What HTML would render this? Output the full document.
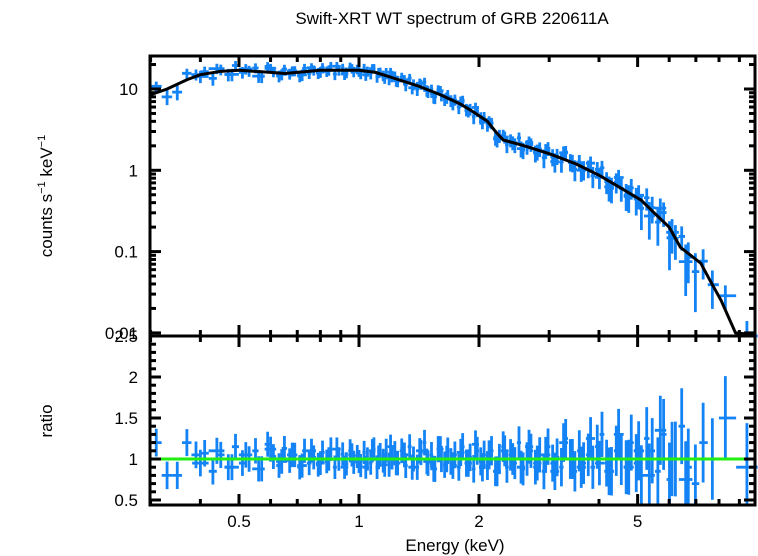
<!DOCTYPE html>
<html><head><meta charset="utf-8"><style>
body{margin:0;background:#fff}
svg{display:block;font-family:"Liberation Sans",sans-serif}
</style></head><body>
<svg id="chart" width="758" height="556" viewBox="0 0 758 556">
<text x="452" y="24" font-size="17" text-anchor="middle">Swift-XRT WT spectrum of GRB 220611A</text>
<text x="52" y="196" font-size="17" text-anchor="middle" transform="rotate(-90 52 196)">counts s<tspan font-size="11" dy="-7">−1</tspan><tspan dy="7"> keV</tspan><tspan font-size="11" dy="-7">−1</tspan></text>
<text x="52" y="421" font-size="17" text-anchor="middle" transform="rotate(-90 52 421)">ratio</text>
<text x="455" y="551" font-size="17" text-anchor="middle">Energy (keV)</text>
<g id="g"></g>
</svg>
<script>
const modelE=[0.3,0.33,0.37,0.4,0.45,0.5,0.6,0.65,0.7,0.8,1.0,1.1,1.2,1.4,1.6,1.8,1.95,2.1,2.2,2.3,2.6,3.0,3.5,4.0,4.5,5.1,5.5,6.0,6.4,7.2,7.6,8.1,8.8,10];
const modelV=[8.5,10,13,15,16.5,17,16,15.5,16,17,17,16,14,11,8.5,6.5,5.1,4,3,2.36,2,1.6,1.2,0.87,0.62,0.43,0.3,0.2,0.113,0.072,0.044,0.025,0.01,0.0095];
const dataE=[0.31,0.33,0.35,0.37,0.39,0.41,0.43,0.45,0.47,0.49,0.51,0.53,0.55,0.57,0.59,0.61,0.63,0.65,0.67,0.69,0.71,0.73,0.75,0.77,0.79,0.81,0.83,0.85,0.87,0.89,0.91,0.93,0.95,0.97,0.99,1.01,1.03,1.05,1.07,1.09,1.11,1.13,1.15,1.17,1.19,1.21,1.23,1.25,1.28,1.31,1.34,1.37,1.40,1.43,1.46,1.49,1.52,1.55,1.58,1.61,1.64,1.67,1.70,1.74,1.78,1.82,1.86,1.90,1.94,1.98,2.02,2.06,2.10,2.15,2.20,2.25,2.30,2.35,2.40,2.46,2.52,2.58,2.64,2.70,2.77,2.84,2.91,2.98,3.06,3.14,3.22,3.30,3.39,3.48,3.57,3.66,3.76,3.86,3.96,4.07,4.18,4.30,4.42,4.55,4.68,4.82,4.96,5.11,5.27,5.44,5.62,5.81,6.01,6.22,6.45,6.70,6.98,7.30,7.70,8.30,9.40];
const ratio=[1.2,0.8,0.8,1.2,1.05,1.07,0.85,1.05,0.9,1.15,0.95,1.0,1.1,0.88,1.18,1.03,0.92,1.13,0.98,1.05,0.9,1.1,0.95,1.02,0.93,1.08,0.97,1.12,0.9,1.0,1.06,0.94,1.1,0.96,1.03,0.92,1.08,1.0,0.95,1.12,0.9,1.05,0.98,1.1,0.93,1.02,1.07,0.95,1.1,0.92,1.15,1.0,0.9,1.08,1.2,0.95,1.05,0.88,1.12,1.0,0.93,1.1,0.97,1.05,0.9,1.15,0.95,1.02,0.88,1.1,0.97,1.05,0.92,1.1,0.85,1.0,1.15,0.9,1.05,0.95,1.2,0.88,1.0,1.1,0.9,1.05,0.85,1.15,0.95,1.02,0.9,1.25,1.0,0.85,1.1,0.95,1.05,0.9,1.15,1.3,0.95,0.85,1.1,1.0,0.9,1.2,0.95,0.8,1.25,1.1,0.85,1.3,0.75,1.0,1.4,0.9,0.7,1.2,1.0,1.5,0.9,1.55];
const dataE2=[0.40,0.44,0.48,0.52,0.56,0.60,0.64,0.68,0.72,0.76,0.80,0.84,0.88,0.92,0.96,1.00,1.04,1.08,1.12,1.16,1.20,1.24,1.30,1.36,1.42,1.48,1.54,1.60,1.66,1.72,1.80,1.88,1.96,2.04,2.12,2.22,2.32,2.43,2.55,2.67,2.80,2.94,3.10,3.26,3.43,3.61,3.81,4.01,4.24,4.48,4.75,5.03,5.35,5.70,6.10,6.60];
const ratio2=[0.95,1.1,0.9,1.05,0.88,1.12,0.97,1.05,0.92,1.1,0.95,1.0,1.12,0.9,1.05,0.97,0.9,1.1,1.02,0.93,1.15,0.95,1.05,0.9,1.1,0.97,0.88,1.12,1.0,0.92,1.08,0.95,1.18,0.9,1.05,0.85,1.1,1.0,0.9,1.15,0.95,1.05,0.85,1.2,1.0,0.9,1.25,0.95,0.85,1.3,0.9,1.1,0.8,1.35,1.0,0.75];
const errE=[0.3,1,2,4,6,10];
const errV=[0.17,0.14,0.17,0.27,0.45,0.55];
const xTicksMajor=[0.5,1,2,5];
const yTicksTop=[0.01,0.1,1,10];
const yTicksTopLabels=["0.01","0.1","1","10"];
const yTicksBot=[0.5,1,1.5,2,2.5];
const yTicksBotLabels=["0.5","1","1.5","2","2.5"];

const L=150,R=755,T=56,M=336,B=505;
const xMin=0.299,xMax=9.85;
const X=e=>L+(Math.log10(e)-Math.log10(xMin))/(Math.log10(xMax)-Math.log10(xMin))*(R-L);
const YT=v=>89-(Math.log10(v)-1)*81.3;
const YB=v=>459-(v-1)*82;
const clampT=y=>Math.max(T,Math.min(M,y));
const clampB=y=>Math.max(M,Math.min(B,y));
function interpLog(xs,ys,e){
  for(let i=0;i<xs.length-1;i++){if(e<=xs[i+1]){const t=(Math.log(e)-Math.log(xs[i]))/(Math.log(xs[i+1])-Math.log(xs[i]));return Math.exp(Math.log(ys[i])+t*(Math.log(ys[i+1])-Math.log(ys[i])));}}
  return ys[ys.length-1];
}
const NS='http://www.w3.org/2000/svg';
const g=document.getElementById('g');
function mk(tag,attrs,parent){const el=document.createElementNS(NS,tag);for(const k in attrs)el.setAttribute(k,attrs[k]);(parent||g).appendChild(el);return el;}

const dataG=mk('g',{stroke:'#1383f5','stroke-width':2.8,fill:'none'});


function drawSet(E,Rt){
  const n=Math.min(E.length,Rt.length);
  for(let i=0;i<n;i++){
    const e=E[i];
    const lo=i>0?Math.sqrt(E[i-1]*e):e*e/Math.sqrt(e*E[i+1]);
    const hi=i<n-1?Math.sqrt(E[i+1]*e):e*e/lo;
    const r=Rt[i], er=interpLog(errE,errV,e);
    const m=interpLog(modelE,modelV,e);
    const c=m*r, ec=m*er;
    const x=X(e);
    let p=mk('path',{d:`M${X(lo)},${clampT(YT(c))}H${X(hi)}M${x},${clampT(YT(c+ec))}V${clampT(YT(Math.max(c-ec,1e-4)))}`},dataG);
    
    
    p=mk('path',{d:`M${X(lo)},${clampB(YB(r))}H${X(hi)}M${x},${clampB(YB(r+er))}V${clampB(YB(r-er))}`},dataG);
    
    
  }
}
drawSet(dataE,ratio);
drawSet(dataE2,ratio2);

// model line
let d='';
for(let i=0;i<modelE.length;i++){
  const x=Math.max(L,Math.min(R,X(modelE[i]))),y=clampT(YT(modelV[i]));
  d+=(i===0?'M':'L')+x+','+y;
}
const ml=mk('path',{d,stroke:'#000','stroke-width':3,fill:'none'});


const gl=mk('line',{x1:L,x2:R,y1:YB(1),y2:YB(1),stroke:'#22ee11','stroke-width':3});



const ax=mk('g',{stroke:'#000','stroke-width':3,fill:'none'});


mk('rect',{x:L,y:T,width:R-L,height:B-T},ax);
mk('line',{x1:L,x2:R,y1:M,y2:M},ax);
const minor=[0.3,0.4,0.6,0.7,0.8,0.9,3,4,6,7,8,9];
for(const e of minor){const x=X(e);for(const y of [T,M,B]){if(y!==T)mk('line',{x1:x,x2:x,y1:y-6,y2:y},ax);if(y!==B)mk('line',{x1:x,x2:x,y1:y,y2:y+6},ax);}}
for(const e of xTicksMajor){const x=X(e);for(const y of [T,M,B]){if(y!==T)mk('line',{x1:x,x2:x,y1:y-11,y2:y},ax);if(y!==B)mk('line',{x1:x,x2:x,y1:y,y2:y+11},ax);}
  const t=mk('text',{x,y:527,'font-size':17,'text-anchor':'middle',fill:'#000',stroke:'none'});t.textContent=String(e);
  
  }
for(let dec=-2;dec<=1;dec++){for(let k=1;k<10;k++){const v=k*Math.pow(10,dec);const y=YT(v);if(y<T||y>M)continue;const len=k===1?11:6;mk('line',{x1:L,x2:L+len,y1:y,y2:y},ax);mk('line',{x1:R-len,x2:R,y1:y,y2:y},ax);}}
yTicksTop.forEach((v,i)=>{const t=mk('text',{x:138,y:YT(v)+6,'font-size':17,'text-anchor':'end',fill:'#000',stroke:'none'});t.textContent=yTicksTopLabels[i];
  
  });
for(let v=0.5;v<=2.51;v+=0.1){const y=YB(v);if(y>B||y<M)continue;const maj=Math.abs(v*2-Math.round(v*2))<0.01;const len=maj?11:6;mk('line',{x1:L,x2:L+len,y1:y,y2:y},ax);mk('line',{x1:R-len,x2:R,y1:y,y2:y},ax);}
yTicksBot.forEach((v,i)=>{const t=mk('text',{x:138,y:YB(v)+6,'font-size':17,'text-anchor':'end',fill:'#000',stroke:'none'});t.textContent=yTicksBotLabels[i];
  
  });
</script>
</body></html>
